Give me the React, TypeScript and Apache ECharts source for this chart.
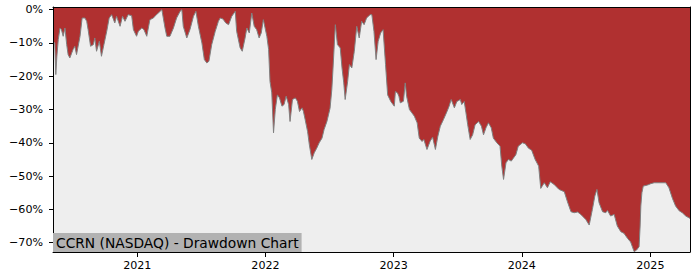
import React, { useEffect, useRef } from "react";
import * as echarts from "echarts";

const DATES: string[] = [
  "2020-05-06","2020-05-11","2020-05-14","2020-05-17","2020-05-21","2020-05-26","2020-05-30","2020-06-04","2020-06-09","2020-06-14",
  "2020-06-18","2020-06-23","2020-07-02","2020-07-07","2020-07-12","2020-07-22","2020-07-28","2020-08-05","2020-08-10","2020-08-14",
  "2020-08-21","2020-08-29","2020-09-02","2020-09-07","2020-09-15","2020-09-21","2020-09-28","2020-10-06","2020-10-13","2020-10-20",
  "2020-10-29","2020-11-03","2020-11-13","2020-11-20","2020-11-27","2020-12-06","2020-12-16","2020-12-21","2020-12-30",
  "2021-01-04","2021-01-14","2021-01-20","2021-01-28","2021-02-06","2021-02-16","2021-02-20","2021-03-12","2021-03-21","2021-03-26",
  "2021-04-04","2021-04-14","2021-04-23","2021-05-03","2021-05-08","2021-05-12","2021-05-22","2021-05-31","2021-06-10","2021-06-17",
  "2021-06-24","2021-07-04","2021-07-11","2021-07-18","2021-07-24","2021-08-01","2021-08-11","2021-08-20","2021-08-25","2021-09-02",
  "2021-09-10","2021-09-18","2021-09-27","2021-10-07","2021-10-11","2021-10-21","2021-10-27","2021-11-04","2021-11-09","2021-11-16",
  "2021-11-23","2021-11-30","2021-12-07","2021-12-14","2021-12-20","2021-12-26",
  "2022-01-05","2022-01-10","2022-01-14","2022-01-19","2022-01-24","2022-01-29","2022-02-04","2022-02-10","2022-02-17","2022-02-23",
  "2022-03-01","2022-03-08","2022-03-12","2022-03-19","2022-03-27","2022-04-02","2022-04-08","2022-04-15","2022-04-19","2022-04-24",
  "2022-05-01","2022-05-06","2022-05-13","2022-05-20","2022-05-27","2022-06-03","2022-06-11","2022-06-17","2022-06-25","2022-07-04",
  "2022-07-09","2022-07-12","2022-07-19","2022-07-25","2022-08-02","2022-08-07","2022-08-12","2022-08-16","2022-08-23","2022-08-28",
  "2022-09-04","2022-09-11","2022-09-18","2022-09-25","2022-10-02","2022-10-09","2022-10-16","2022-10-26","2022-10-31","2022-11-06",
  "2022-11-12","2022-11-18","2022-11-25","2022-12-02","2022-12-09","2022-12-15","2022-12-24",
  "2023-01-03","2023-01-06","2023-01-12","2023-01-16","2023-01-20","2023-01-29","2023-02-03","2023-02-07","2023-02-15","2023-02-22",
  "2023-03-01","2023-03-09","2023-03-15","2023-03-23","2023-03-28","2023-04-06","2023-04-15","2023-04-22","2023-04-30","2023-05-07",
  "2023-05-14","2023-05-23","2023-06-02","2023-06-08","2023-06-14","2023-06-23","2023-06-30","2023-07-10","2023-07-14","2023-07-21",
  "2023-07-26","2023-07-31","2023-08-07","2023-08-14","2023-08-21","2023-08-31","2023-09-08","2023-09-14","2023-09-21","2023-09-28",
  "2023-10-06","2023-10-12","2023-10-22","2023-10-31","2023-11-05","2023-11-10","2023-11-17","2023-11-24","2023-12-02","2023-12-08",
  "2023-12-15","2023-12-22",
  "2024-01-03","2024-01-11","2024-01-20","2024-01-29","2024-02-08","2024-02-18","2024-02-24","2024-03-05","2024-03-14","2024-03-22",
  "2024-04-02","2024-04-16","2024-05-01","2024-05-10","2024-05-20","2024-05-29","2024-06-08","2024-06-17","2024-07-01","2024-07-11",
  "2024-07-20","2024-07-27","2024-08-02","2024-08-08","2024-08-18","2024-08-27","2024-09-01","2024-09-10","2024-09-20","2024-09-29",
  "2024-10-09","2024-10-18","2024-10-28","2024-11-06","2024-11-16","2024-11-23","2024-11-30","2024-12-03","2024-12-05","2024-12-08",
  "2024-12-12","2024-12-24",
  "2025-01-02","2025-01-12","2025-01-25","2025-02-14","2025-02-23","2025-03-05","2025-03-14","2025-03-24","2025-04-02","2025-04-12",
  "2025-04-24",
];

const DRAWDOWN: number[] = [
  -9.5,-10,-19.5,-14,-9,-5.5,-6,-8,-5.5,-10.5,
  -13.5,-14.5,-12,-11,-13.5,-8,-2.5,-2.5,-3.5,-6,
  -11,-10.5,-8.5,-12.5,-9.5,-14,-10.5,-6.5,-2.5,-1.5,
  -4,-2,-5,-2,-3.5,-1.5,-1.8,-6,-8,
  -6.5,-5.5,-6,-8,-3,-2.5,-2,0,-5.5,-8,
  -8,-5.5,-2.5,-0.5,0,-5,-8.5,-6,-2,-0.5,
  -5,-10,-15,-16,-15.5,-10.5,-6.5,-3.5,-2.5,-2.8,
  -4,-4.5,-2,-0.5,-6.5,-11.5,-12.5,-8.5,-5.5,-7,
  -1,-5,-6,-8.5,-7,-3,
  -8,-12,-21.6,-25,-37,-30,-25.6,-26.5,-29,-28.5,
  -26,-28.5,-33.6,-27,-26.5,-27.5,-30.6,-29.5,-30.5,-33,
  -36.6,-40.6,-45,-43,-41.6,-40,-38.6,-36,-33.6,-29.6,
  -24,-18.5,-4.5,-10.5,-11.5,-17.5,-22,-27,-21.6,-16.5,
  -17.5,-12.5,-5,-8.5,-3.5,-4.5,-2.5,-1.5,-1.5,-6.5,
  -15,-9.5,-7,-6,-16.5,-25.6,-27.6,
  -29,-24.6,-25,-26,-28,-27.5,-22,-26,-30,-31,
  -32,-34,-38.6,-39.6,-39,-42,-39.5,-38.3,-42,-38,
  -35,-33,-30.6,-29,-27,-29.5,-27.6,-27,-28.5,-27.6,
  -31,-34.6,-39,-37.6,-34.6,-33.6,-35,-37.6,-35.5,-34,
  -35.5,-38.6,-40,-41,-47,-51,-46,-45,-45.5,-44.6,
  -43.6,-41,
  -40,-40.3,-41.6,-42.2,-45,-47,-53.7,-52,-53.5,-51.7,
  -52.5,-54,-54.7,-57.7,-60.7,-61,-60.8,-61.5,-63,-64.7,
  -60,-56,-54,-58,-60.7,-61,-60.3,-62,-61.5,-65,
  -66.7,-67.2,-68.7,-69.8,-72.7,-72.2,-71.2,-65,-59,-55,
  -53,-52.7,
  -52.3,-52,-52,-52,-53.5,-56.7,-59,-60.4,-61,-62,
  -62.7,
];

const Y_TICKS: number[] = [0, -10, -20, -30, -40, -50, -60, -70];
const YEAR_TICKS: number[] = [2021, 2022, 2023, 2024, 2025];
const TITLE = "CCRN (NASDAQ) - Drawdown Chart";

const toTs = (s: string) => {
  const [y, m, d] = s.split("-").map(Number);
  return new Date(y, m - 1, d).getTime();
};

export default function App() {
  const ref = useRef<HTMLDivElement>(null);
  useEffect(() => {
    if (!ref.current) return;
    const chart = echarts.init(ref.current, null, { renderer: "svg" });
    const yearTs = YEAR_TICKS.map((y) => new Date(y, 0, 1).getTime());
    const font = "DejaVu Sans";
    const yMin = -72.8;
    const yMax = 0.8;
    const xMin = toTs(DATES[0]);
    const xMax = toTs(DATES[DATES.length - 1]);
    const fmtPct = (v: number) => (v < 0 ? "\u2212" : "") + Math.abs(Math.round(v)) + "%";
    chart.setOption({
      animation: false,
      title: {
        text: TITLE,
        left: 53,
        top: 233,
        backgroundColor: "#b2b2b2",
        padding: [2, 3, 1, 3],
        z: 20,
        textStyle: { fontFamily: font, fontSize: 13.8, fontWeight: "normal", color: "#000", lineHeight: 16 },
      },
      grid: {
        left: 53,
        right: 10,
        top: 7,
        bottom: 28,
        show: true,
        backgroundColor: "#eeeeee",
        borderWidth: 0,
        outerBoundsMode: "none",
      },
      xAxis: [
        {
          type: "value",
          min: xMin,
          max: xMax,
          z: 10,
          axisLine: { show: true, onZero: false, lineStyle: { color: "#000", width: 1 } },
          axisTick: { show: true, length: 5, lineStyle: { color: "#000" }, customValues: yearTs },
          axisLabel: {
            show: true,
            customValues: yearTs,
            margin: 8,
            color: "#000",
            fontFamily: font,
            fontSize: 11.1,
            formatter: (v: number) => String(new Date(v).getFullYear()),
          },
          splitLine: { show: false },
        },
        {
          type: "value",
          min: xMin,
          max: xMax,
          position: "top",
          z: 10,
          axisLine: { show: true, onZero: false, lineStyle: { color: "#000", width: 1 } },
          axisTick: { show: false },
          axisLabel: { show: false },
          splitLine: { show: false },
        },
      ],
      yAxis: [
        {
          type: "value",
          min: yMin,
          max: yMax,
          z: 10,
          axisLine: { show: true, onZero: false, lineStyle: { color: "#000", width: 1 } },
          axisTick: { show: true, length: 4, lineStyle: { color: "#000" }, customValues: Y_TICKS },
          axisLabel: {
            show: true,
            customValues: Y_TICKS,
            margin: 10,
            color: "#000",
            fontFamily: font,
            fontSize: 11.1,
            formatter: fmtPct,
          },
          splitLine: { show: false },
        },
        {
          type: "value",
          min: yMin,
          max: yMax,
          position: "right",
          z: 10,
          axisLine: { show: true, onZero: false, lineStyle: { color: "#000", width: 1 } },
          axisTick: { show: false },
          axisLabel: { show: false },
          splitLine: { show: false },
        },
      ],
      series: [
        {
          type: "line",
          xAxisIndex: 0,
          yAxisIndex: 0,
          data: DATES.map((d, i) => [toTs(d), DRAWDOWN[i]]),
          showSymbol: false,
          symbol: "none",
          lineStyle: { color: "#808080", width: 1 },
          areaStyle: { color: "#b03030", opacity: 1, origin: "end" },
          z: 2,
        },
      ],
    });
    return () => chart.dispose();
  }, []);
  return (
    <div
      ref={ref}
      style={{ position: "absolute", left: 0, top: 0, width: 700, height: 280 }}
    />
  );
}
